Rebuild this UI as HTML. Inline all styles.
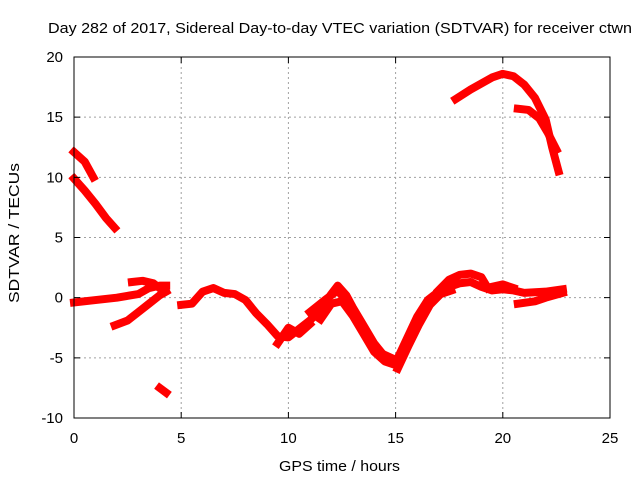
<!DOCTYPE html>
<html><head><meta charset="utf-8"><style>
body{margin:0;background:#fff}
svg{display:block;font-family:"Liberation Sans",sans-serif}
</style></head><body>
<svg id="chart" width="640" height="480" viewBox="0 0 640 480">
<rect width="640" height="480" fill="#fff"/>
<text x="48" y="33" font-size="15" textLength="584" lengthAdjust="spacingAndGlyphs">Day 282 of 2017, Sidereal Day-to-day VTEC variation (SDTVAR) for receiver ctwn</text>
<g id="grid"></g>
<g id="series"></g>
<rect x="74" y="57" width="536" height="361" fill="none" stroke="#000" stroke-width="1"/>
<g id="ticks"></g>
<text x="279" y="471" font-size="15" textLength="121" lengthAdjust="spacingAndGlyphs">GPS time / hours</text>
<text transform="translate(19,303) rotate(-90)" font-size="15" textLength="140" lengthAdjust="spacingAndGlyphs">SDTVAR / TECUs</text>
</svg>
<script>
const xTicks=[0,5,10,15,20,25];
const yTicks=[-10,-5,0,5,10,15,20];
const segA=[[0,12.1],[0.5,11.3],[0.9,10.0]];
const segB=[[0,9.9],[0.5,8.9],[1,7.8],[1.5,6.6],[1.9,5.8]];
const segC=[[0,-0.4],[1,-0.2],[2,0],[3,0.3],[3.5,0.8],[4,1.0],[4.3,1.0]];
const segD=[[1.9,-2.3],[2.5,-1.9],[3,-1.2],[3.5,-0.5],[4,0.2],[4.3,0.5]];
const segE=[[2.7,1.3],[3.2,1.4],[3.7,1.2],[4.2,0.5]];
const segF=[[4.0,-7.5],[4.3,-7.9]];
const segG=[[5,-0.6],[5.5,-0.5],[6,0.5],[6.5,0.8],[7,0.4],[7.5,0.3],[8,-0.2],[8.5,-1.3],[9,-2.2],[9.5,-3.2],[10,-3.3],[10.5,-2.6],[11,-1.9],[11.5,-1],[12,0.3],[12.3,1.0],[12.7,0.2],[13,-0.8],[13.5,-2.3],[14,-3.8],[14.5,-4.9],[15,-5.4],[15.5,-3.5],[16,-1.6],[16.5,-0.2],[17,0.5],[17.5,0.9],[18,1.2],[18.5,1.3],[19,0.9],[19.5,0.6],[20,0.7],[20.5,0.6],[21,0.4],[22,0.5],[22.8,0.7]];
const segG2=[[11.5,-1.8],[12,-0.5],[12.5,-0.3],[13,-1.5],[13.5,-3],[14,-4.5],[14.5,-5.3],[15,-5.6]];
const segG3=[[11,-1.2],[11.7,-0.2],[12.3,0.6],[12.8,-0.5],[13.3,-2],[13.8,-3.5],[14.3,-4.6],[14.8,-5]];
const segG4=[[15.1,-5.9],[15.6,-4],[16.1,-2.2],[16.6,-0.6],[17.1,0.3],[17.6,0.6]];
const segH=[[9.5,-3.8],[10,-2.5],[10.5,-3.0],[11,-2.2]];
const segI=[[17,0.6],[17.5,1.5],[18,1.9],[18.5,2.0],[19,1.7],[19.3,0.8]];
const segJ=[[19.5,0.9],[20,1.1],[20.5,0.8]];
const segK=[[20.7,-0.5],[21.5,-0.3],[22,0],[22.8,0.4]];
const segL=[[17.8,16.5],[18.5,17.3],[19,17.8],[19.5,18.3],[20,18.6],[20.5,18.4],[21,17.7],[21.5,16.6],[22,14.8],[22.3,12.5],[22.6,10.5]];
const segM=[[20.7,15.7],[21.2,15.6],[21.7,14.9],[22.1,13.7],[22.5,12.3]];
const allSegs=[segA,segB,segC,segD,segE,segF,segG,segG2,segG3,segG4,segH,segI,segJ,segK,segL,segM];

const X0=74,X1=610,Y0=418,Y1=57;
function sx(h){return X0+(h-0)/(25-0)*(X1-X0);}
function sy(v){return Y0-(v-(-10))/(20-(-10))*(Y0-Y1);}
const NS="http://www.w3.org/2000/svg";
const grid=document.getElementById('grid'),ticks=document.getElementById('ticks'),ser=document.getElementById('series');
xTicks.forEach(t=>{
  const x=sx(t);
  if(t>0&&t<25){const l=document.createElementNS(NS,'line');
  
  
  l.setAttribute('x1',x);l.setAttribute('x2',x);l.setAttribute('y1',Y1);l.setAttribute('y2',Y0);
  l.setAttribute('stroke','#a0a0a0');l.setAttribute('stroke-dasharray','2,3');grid.appendChild(l);}
  const tk=document.createElementNS(NS,'path');
  
  
  tk.setAttribute('d',`M${x},${Y0}v-6M${x},${Y1}v6`);tk.setAttribute('stroke','#000');ticks.appendChild(tk);
  const tx=document.createElementNS(NS,'text');
  
  
  tx.setAttribute('x',x);tx.setAttribute('y',443);tx.setAttribute('font-size','15');tx.setAttribute('text-anchor','middle');tx.textContent=t;ticks.appendChild(tx);
});
yTicks.forEach(t=>{
  const y=sy(t);
  if(t>-10&&t<20){const l=document.createElementNS(NS,'line');
  
  
  l.setAttribute('x1',X0);l.setAttribute('x2',X1);l.setAttribute('y1',y);l.setAttribute('y2',y);
  l.setAttribute('stroke','#a0a0a0');l.setAttribute('stroke-dasharray','2,3');grid.appendChild(l);}
  const tk=document.createElementNS(NS,'path');
  
  
  tk.setAttribute('d',`M${X0},${y}h6M${X1},${y}h-6`);tk.setAttribute('stroke','#000');ticks.appendChild(tk);
  const tx=document.createElementNS(NS,'text');
  
  
  tx.setAttribute('x',63);tx.setAttribute('y',y+5);tx.setAttribute('font-size','15');tx.setAttribute('text-anchor','end');tx.textContent=t;ticks.appendChild(tx);
});
allSegs.forEach(s=>{
  const p=document.createElementNS(NS,'polyline');
  
  
  p.setAttribute('points',s.map(d=>sx(d[0])+','+sy(d[1])).join(' '));
  p.setAttribute('fill','none');p.setAttribute('stroke','#ff0000');p.setAttribute('stroke-width','8');
  p.setAttribute('stroke-linejoin','round');p.setAttribute('stroke-linecap','square');
  ser.appendChild(p);
});
</script>
</body></html>
